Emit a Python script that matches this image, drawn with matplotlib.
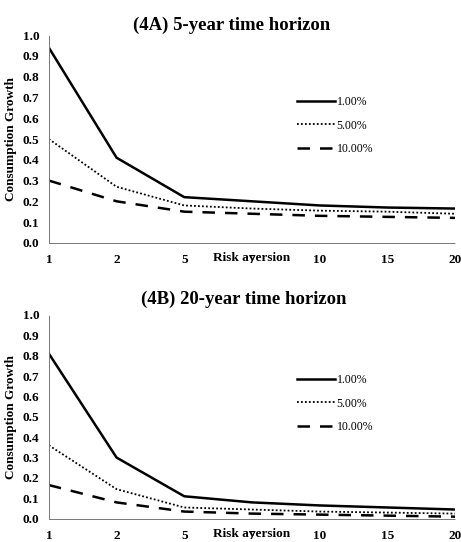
"""Consumption growth vs risk aversion for two time horizons."""

import matplotlib
matplotlib.use("Agg")
import matplotlib.pyplot as plt

RISK_AVERSION = ["1", "2", "5", "7", "10", "15", "20"]
SERIES_LABELS = ["1.00%", "5.00%", "10.00%"]

# panel A: 5-year horizon
GROWTH_5Y = [
    [0.94, 0.41, 0.22, 0.20, 0.18, 0.17, 0.165],
    [0.50, 0.27, 0.18, 0.165, 0.155, 0.15, 0.14],
    [0.30, 0.20, 0.15, 0.14, 0.13, 0.125, 0.12],
]
# panel B: 20-year horizon
GROWTH_20Y = [
    [0.81, 0.30, 0.11, 0.08, 0.065, 0.055, 0.045],
    [0.36, 0.145, 0.055, 0.045, 0.035, 0.03, 0.025],
    [0.165, 0.08, 0.035, 0.025, 0.02, 0.015, 0.01],
]
Y_TICKS = [0.0, 0.1, 0.2, 0.3, 0.4, 0.5, 0.6, 0.7, 0.8, 0.9, 1.0]

STYLES = [
    dict(linestyle="-", linewidth=1.8),
    dict(linestyle=(0, (1, 1.2)), linewidth=1.3),
    dict(linestyle=(0, (5, 4)), linewidth=1.8),
]

plt.rcParams["font.family"] = ["Liberation Serif", "DejaVu Serif"]
plt.rcParams["font.weight"] = "bold"


def draw_panel(ax, title, values, title_pad, title_x):
    x = range(len(RISK_AVERSION))
    for vals, label, style in zip(values, SERIES_LABELS, STYLES):
        ax.plot(x, vals, color="black", label=label, **style)
    ax.set_xlim(0, len(RISK_AVERSION) - 1)
    ax.set_ylim(0, 1.0)
    ax.set_xticks(list(x), RISK_AVERSION)
    ax.set_yticks(Y_TICKS, [f"{v:.1f}" for v in Y_TICKS])
    ax.tick_params(length=0, labelsize=9.5)
    ax.tick_params(axis="x", pad=8)
    ax.tick_params(axis="y", pad=7)
    for side in ("top", "right"):
        ax.spines[side].set_visible(False)
    for side in ("left", "bottom"):
        ax.spines[side].set_linestyle((0, (1, 1)))
        ax.spines[side].set_linewidth(0.7)
        ax.spines[side].set_color("#777777")
    ax.set_title(title, fontsize=13.5, fontweight="bold", pad=title_pad, x=title_x)
    ax.set_ylabel("Consumption Growth", fontsize=9.5, fontweight="bold")
    ax.yaxis.set_label_coords(-0.078, 0.5)
    ax.text(0.5, -0.045, "Risk aversion", transform=ax.transAxes, ha="center",
            va="top", fontsize=9.5, fontweight="bold")
    ax.legend(loc="center left", bbox_to_anchor=(0.585, 0.565), frameon=False,
              handlelength=3.2, handletextpad=0.15, labelspacing=0.95,
              prop={"family": "Liberation Serif", "weight": "normal", "size": 8.5})


fig = plt.figure(figsize=(4.61, 5.42), dpi=100)
ax_a = fig.add_axes([0.106, 0.552, 0.881, 0.383])
ax_b = fig.add_axes([0.106, 0.043, 0.881, 0.376])
draw_panel(ax_a, "(4A) 5-year time horizon", GROWTH_5Y, 4, 0.45)
draw_panel(ax_b, "(4B) 20-year time horizon", GROWTH_20Y, 8, 0.48)

fig.savefig("out.png", dpi=100)
